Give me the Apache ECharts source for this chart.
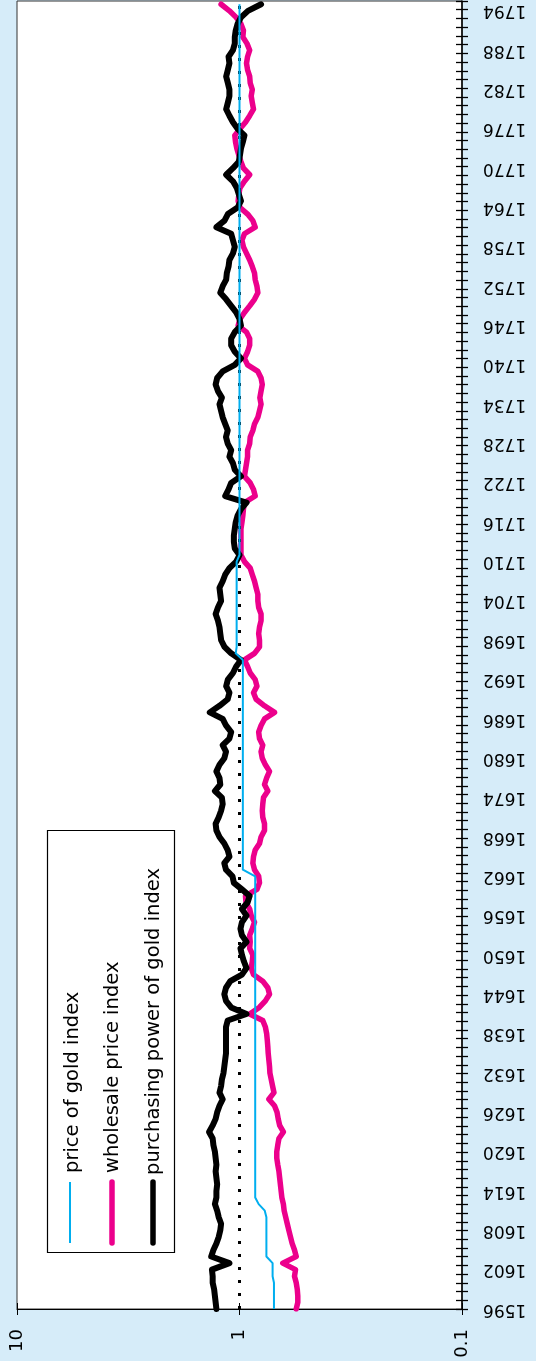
<!DOCTYPE html>
<html>
<head>
<meta charset="utf-8">
<script src="https://cdn.jsdelivr.net/npm/echarts@6/dist/echarts.min.js"></script>
<style>
html,body{margin:0;padding:0;background:#d6ecf9;}
#chart{width:536px;height:1361px;}
</style>
</head>
<body>
<div id="chart"></div>
<script>
// ---- data ----
const FIRST_YEAR = 1596;
const yearTickLabels = [1596,1602,1608,1614,1620,1626,1632,1638,1644,1650,1656,1662,1668,1674,1680,1686,1692,1698,1704,1710,1716,1722,1728,1734,1740,1746,1752,1758,1764,1770,1776,1782,1788,1794];
const valueTickLabels = [0.1, 1, 10];
const seriesNames = ['price of gold index', 'wholesale price index', 'purchasing power of gold index'];

// price of gold index, 1596..1795
const goldPrice = [
0.70,0.70,0.70,0.70,0.70,0.71,0.71,0.71,0.757,0.757,
0.757,0.757,0.757,0.757,0.757,0.77,0.82,0.85,0.85,0.85,
0.85,0.85,0.85,0.85,0.85,0.85,0.85,0.85,0.85,0.85,
0.85,0.85,0.85,0.85,0.85,0.85,0.85,0.85,0.85,0.85,
0.85,0.85,0.85,0.85,0.85,0.85,0.85,0.85,0.85,0.85,
0.85,0.85,0.85,0.85,0.85,0.85,0.85,0.85,0.85,0.85,
0.85,0.85,0.85,0.85,0.85,0.85,0.85,0.966,0.966,0.966,
0.966,0.966,0.966,0.966,0.966,0.966,0.966,0.966,0.966,0.966,
0.966,0.966,0.966,0.966,0.966,0.966,0.966,0.966,0.966,0.966,
0.966,0.966,0.966,0.966,0.966,0.966,0.966,0.966,0.966,0.966,
1.04,1.03,1.03,1.03,1.03,1.03,1.03,1.03,1.03,1.03,
1.03,1.03,1.03,1.03,1.03,1.0,1.0,1.0,1.0,1.0,
1.0,1.0,1.0,1.0,1.0,1.0,1.0,1.0,1.0,1.0,
1.0,1.0,1.0,1.0,1.0,1.0,1.0,1.0,1.0,1.0,
1.0,1.0,1.0,1.0,1.0,1.0,1.0,1.0,1.0,1.0,
1.0,1.0,1.0,1.0,1.0,1.0,1.0,1.0,1.0,1.0,
1.0,1.0,1.0,1.0,1.0,1.0,1.0,1.0,1.0,1.0,
1.0,1.0,1.0,1.0,1.0,1.0,1.0,1.0,1.0,1.0,
1.0,1.0,1.0,1.0,1.0,1.0,1.0,1.0,1.0,1.0,
1.0,1.0,1.0,1.0,1.0,1.0,1.0,1.0,1.0,1.0
];

// wholesale price index, 1596..1795
const wholesalePrice = [
0.556,0.547,0.547,0.55,0.556,0.566,0.56,0.639,0.556,0.566,
0.58,0.59,0.60,0.61,0.62,0.63,0.635,0.645,0.65,0.655,
0.66,0.665,0.673,0.68,0.68,0.673,0.665,0.635,0.66,0.67,
0.678,0.696,0.738,0.70,0.71,0.72,0.73,0.733,0.738,0.743,
0.746,0.75,0.755,0.765,0.786,0.90,0.815,0.765,0.733,0.746,
0.786,0.865,0.886,0.876,0.871,0.90,0.895,0.90,0.876,0.856,
0.886,0.90,0.935,0.94,0.835,0.813,0.82,0.856,0.871,0.865,
0.85,0.813,0.80,0.772,0.772,0.786,0.79,0.786,0.78,0.746,
0.772,0.755,0.733,0.765,0.79,0.80,0.786,0.813,0.82,0.80,
0.772,0.696,0.772,0.842,0.865,0.835,0.85,0.895,0.92,0.95,
0.856,0.813,0.813,0.82,0.813,0.80,0.80,0.82,0.827,0.827,
0.842,0.856,0.876,0.895,0.95,0.985,0.985,0.985,0.985,0.985,
0.975,0.966,0.96,0.95,0.85,0.865,0.895,0.95,0.94,0.93,
0.92,0.92,0.90,0.895,0.871,0.856,0.827,0.813,0.80,0.81,
0.80,0.79,0.80,0.827,0.92,0.95,0.92,0.90,0.90,0.93,
1.014,0.995,0.95,0.90,0.856,0.827,0.835,0.85,0.856,0.876,
0.90,0.93,0.96,0.975,0.95,0.85,0.871,0.92,0.995,1.014,
1.007,0.995,0.95,0.90,0.96,0.985,1.007,1.028,1.042,1.05,
0.995,0.94,0.90,0.865,0.876,0.886,0.876,0.895,0.90,0.92,
0.93,0.92,0.90,0.925,0.966,0.96,0.985,1.035,1.11,1.21
];

// purchasing power of gold index, 1596..1795
const purchasingPower = [
1.27,1.28,1.29,1.30,1.32,1.32,1.33,1.11,1.34,1.31,
1.27,1.24,1.22,1.21,1.24,1.26,1.29,1.27,1.27,1.26,
1.27,1.28,1.27,1.28,1.29,1.31,1.32,1.37,1.32,1.28,
1.26,1.23,1.19,1.23,1.21,1.20,1.18,1.17,1.16,1.15,
1.15,1.15,1.15,1.15,1.13,0.93,1.09,1.15,1.17,1.15,
1.10,0.975,0.93,0.955,0.975,0.99,0.93,0.975,0.99,0.975,
0.93,0.975,0.92,0.90,0.975,1.06,1.075,1.15,1.17,1.11,
1.13,1.17,1.23,1.27,1.28,1.24,1.21,1.19,1.20,1.29,
1.22,1.23,1.27,1.23,1.17,1.15,1.19,1.11,1.09,1.15,
1.19,1.36,1.23,1.13,1.11,1.148,1.128,1.07,1.035,0.985,
1.09,1.168,1.209,1.22,1.23,1.25,1.28,1.25,1.21,1.22,
1.23,1.19,1.16,1.11,1.035,1.0,1.05,1.06,1.06,1.05,
1.04,1.02,0.985,0.93,1.16,1.12,1.09,0.985,1.05,1.07,
1.11,1.09,1.13,1.15,1.13,1.16,1.19,1.21,1.23,1.20,
1.25,1.28,1.26,1.19,1.05,0.985,1.05,1.09,1.09,1.05,
0.985,1.0,1.035,1.09,1.148,1.22,1.19,1.148,1.14,1.12,
1.11,1.07,1.05,1.07,1.09,1.27,1.168,1.128,1.02,0.985,
1.007,1.028,1.07,1.148,1.07,1.007,0.995,0.985,0.966,0.95,
1.02,1.07,1.11,1.148,1.128,1.11,1.11,1.128,1.148,1.128,
1.11,1.12,1.07,1.05,1.05,1.04,1.02,0.985,0.916,0.80
];

const FONT = '"DejaVu Sans", sans-serif';
const years = goldPrice.map((_, i) => FIRST_YEAR + i);
const pairs = arr => arr.map((v, i) => [v, years[i]]);

const chart = echarts.init(document.getElementById('chart'), null, {renderer: 'canvas'});

const gLeft = 17, gRight = 74, gTop = 1, gBottom = 52;

const logAxisBase = {
  type: 'log', logBase: 10, min: 0.1, max: 10, inverse: true, position: 'bottom',
  splitLine: {show: false}
};
const yearAxisBase = {
  type: 'value', min: FIRST_YEAR, max: 1795.5, position: 'right',
  splitLine: {show: false}
};

const option = {
  backgroundColor: '#d6ecf9',
  animation: false,
  grid: {left: gLeft, right: gRight, top: gTop, bottom: gBottom, show: true,
         backgroundColor: '#ffffff', borderColor: '#333', borderWidth: 1,
         outerBoundsMode: 'none'},
  xAxis: [
    Object.assign({}, logAxisBase, {
      axisLine: {show: true, lineStyle: {color: '#000', width: 1}},
      axisTick: {show: true, length: 6, lineStyle: {color: '#000', width: 1}},
      axisLabel: {show: true, rotate: 90, margin: 20, color: '#000', fontSize: 18, fontFamily: FONT,
        formatter: v => { const m = valueTickLabels.find(t => Math.abs(t - v) < 1e-9); return m === undefined ? '' : String(m); }}
    }),
    Object.assign({}, logAxisBase, {
      axisLine: {show: false},
      axisTick: {show: true, inside: true, length: 6, lineStyle: {color: '#000', width: 1}},
      axisLabel: {show: false}
    })
  ],
  yAxis: [
    Object.assign({}, yearAxisBase, {
      interval: 6,
      axisLine: {show: true, lineStyle: {color: '#000', width: 1.5}},
      axisTick: {show: false},
      axisLabel: {show: true, rotate: 180, margin: 21, color: '#000', fontSize: 17, fontFamily: FONT,
        showMaxLabel: false,
        formatter: v => yearTickLabels.indexOf(Math.round(v)) >= 0 && Math.abs(v - Math.round(v)) < 1e-6 ? String(Math.round(v)) : ''}
    }),
    Object.assign({}, yearAxisBase, {
      interval: 1.33,
      axisLine: {show: false},
      axisTick: {show: true, length: 6, lineStyle: {color: '#000', width: 1.3}},
      axisLabel: {show: false}
    }),
    Object.assign({}, yearAxisBase, {
      interval: 1.33,
      axisLine: {show: false},
      axisTick: {show: true, inside: true, length: 6, lineStyle: {color: '#000', width: 1.3}},
      axisLabel: {show: false}
    })
  ],
  series: [
    {
      name: 'reference', type: 'line', data: [], z: 1, silent: true,
      markLine: {
        silent: true, symbol: 'none', label: {show: false},
        lineStyle: {color: '#000', width: 3, type: [3, 10], cap: 'butt'},
        data: [{xAxis: 1}]
      }
    },
    {
      name: seriesNames[1], type: 'line', data: pairs(wholesalePrice), z: 3,
      showSymbol: false, symbol: 'none',
      lineStyle: {color: '#ec008c', width: 5.5, join: 'round', cap: 'round'}
    },
    {
      name: seriesNames[2], type: 'line', data: pairs(purchasingPower), z: 4,
      showSymbol: false, symbol: 'none',
      lineStyle: {color: '#000000', width: 6, join: 'round', cap: 'round'}
    },
    {
      name: seriesNames[0], type: 'line', data: pairs(goldPrice), z: 5,
      showSymbol: false, symbol: 'none',
      lineStyle: {color: '#00aeef', width: 2, join: 'round'}
    }
  ],
  graphic: [
    {type: 'rect', z: 50, shape: {x: 47.5, y: 830.5, width: 127, height: 422},
     style: {fill: '#ffffff', stroke: '#000', lineWidth: 1.2}},
    {type: 'line', z: 51, shape: {x1: 70, y1: 1243, x2: 70, y2: 1182},
     style: {stroke: '#00aeef', lineWidth: 2}},
    {type: 'line', z: 51, shape: {x1: 112, y1: 1243, x2: 112, y2: 1182},
     style: {stroke: '#ec008c', lineWidth: 5.5, lineCap: 'round'}},
    {type: 'line', z: 51, shape: {x1: 153, y1: 1243, x2: 153, y2: 1182},
     style: {stroke: '#000', lineWidth: 5.5, lineCap: 'round'}},
    {type: 'text', z: 51, x: 73, y: 1173, rotation: Math.PI / 2,
     style: {text: seriesNames[0], fill: '#000', font: '19.5px ' + FONT, align: 'left', verticalAlign: 'middle'}},
    {type: 'text', z: 51, x: 113, y: 1173, rotation: Math.PI / 2,
     style: {text: seriesNames[1], fill: '#000', font: '19.5px ' + FONT, align: 'left', verticalAlign: 'middle'}},
    {type: 'text', z: 51, x: 154, y: 1175, rotation: Math.PI / 2,
     style: {text: seriesNames[2], fill: '#000', font: '19.5px ' + FONT, align: 'left', verticalAlign: 'middle'}}
  ]
};
chart.setOption(option);
</script>
</body>
</html>
